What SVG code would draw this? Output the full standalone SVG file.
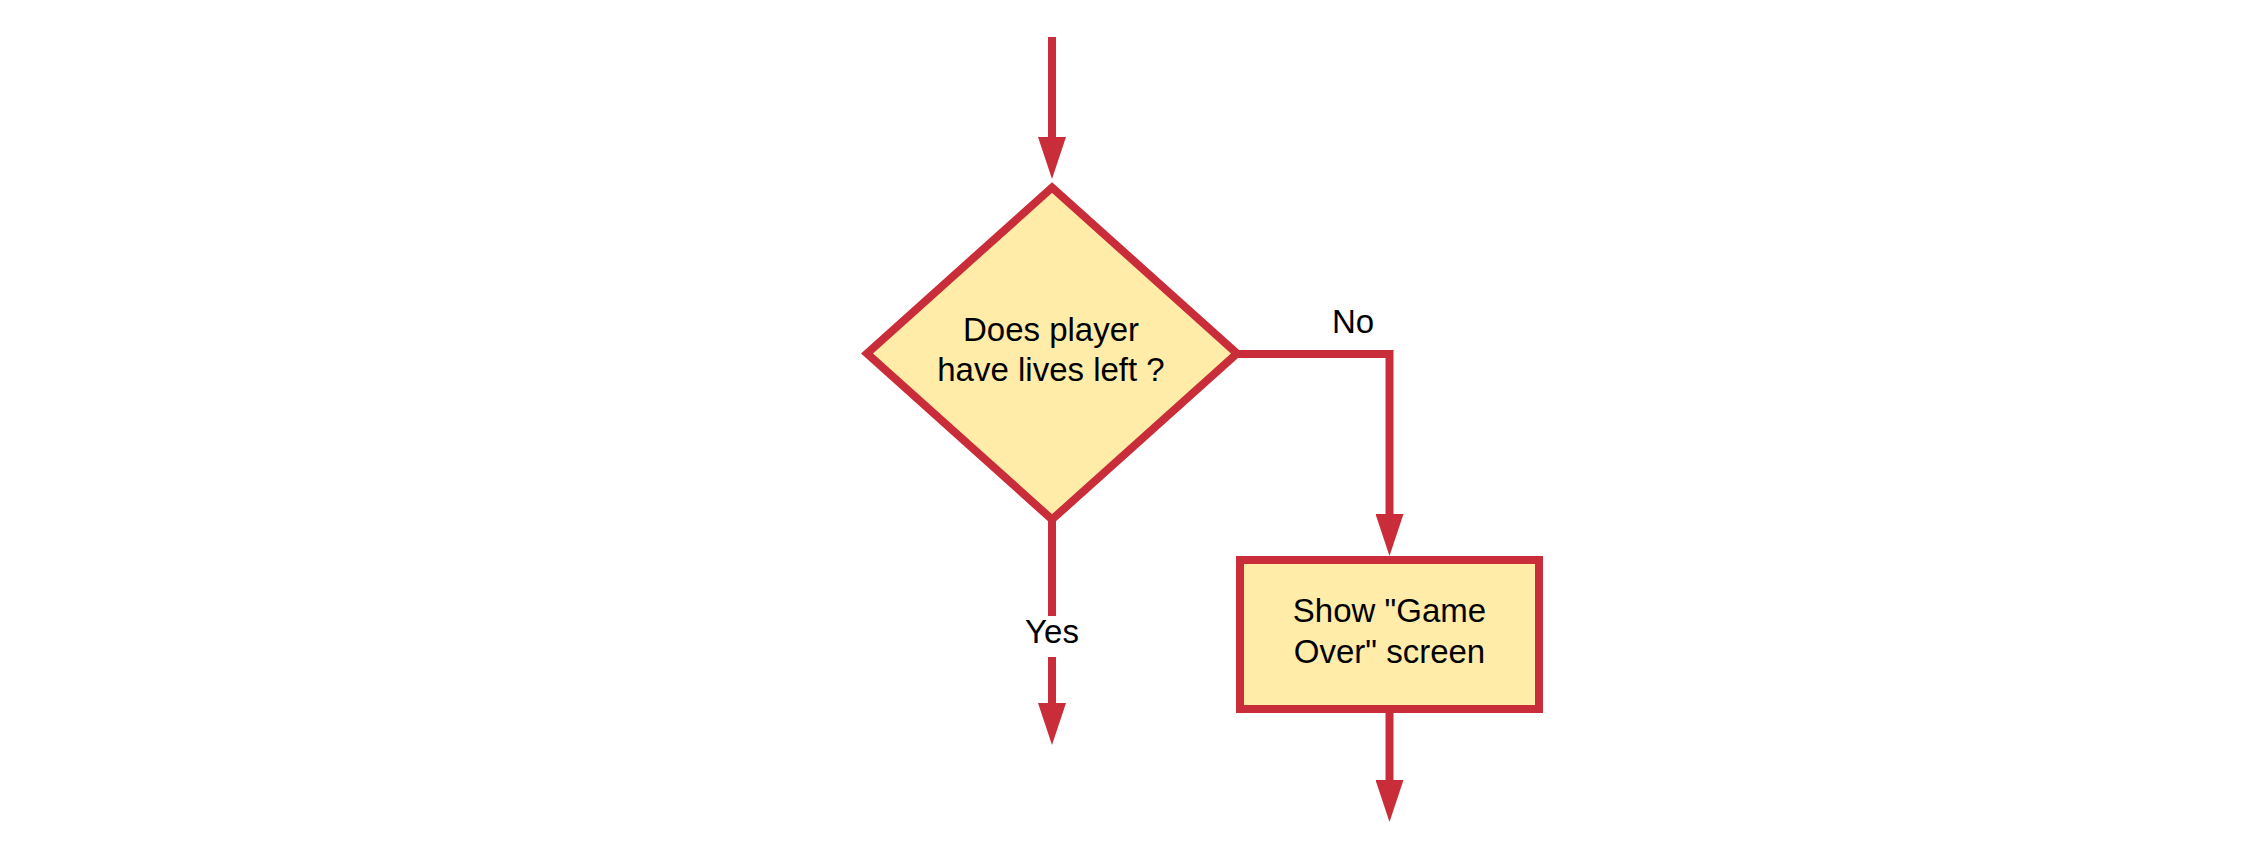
<svg xmlns="http://www.w3.org/2000/svg" width="2248" height="855" viewBox="0 0 2248 855">
<style>
.shape{fill:#FFECA9;stroke:#C92D39;stroke-width:8}
.conn{fill:none;stroke:#C92D39;stroke-width:8}
.t{font-family:"Liberation Sans",Arial,sans-serif;font-size:33px;fill:#000;text-anchor:middle}
</style>
<defs>
<marker id="arr" markerUnits="userSpaceOnUse" markerWidth="43" markerHeight="28" refX="0" refY="14" orient="auto" viewBox="0 0 43 28">
<path d="M0,0 L42,14 L0,28 Z" fill="#C92D39"/>
</marker>
</defs>
<rect width="2248" height="855" fill="#fff"/>
<g id="connectors">
<path class="conn" d="M1052,37 V137" marker-end="url(#arr)"/>
<path class="conn" d="M1236,354 H1389.5 V514" marker-end="url(#arr)"/>
<path class="conn" d="M1052,520 V616"/>
<path class="conn" d="M1052,657 V703" marker-end="url(#arr)"/>
<path class="conn" d="M1389.5,709 V780" marker-end="url(#arr)"/>
<text class="t" x="1353" y="333">No</text>
<text class="t" x="1052" y="643">Yes</text>
</g>
<g id="decision">
<path class="shape" d="M1052,187.5 L1237,353.5 L1052,519.5 L867,353.5 Z"/>
<text class="t" x="1051" y="341">Does player</text>
<text class="t" x="1051" y="381">have lives left ?</text>
</g>
<g id="gameover">
<rect class="shape" x="1240" y="560" width="299" height="149"/>
<text class="t" x="1389.5" y="622">Show "Game</text>
<text class="t" x="1389.5" y="663">Over" screen</text>
</g>
</svg>
